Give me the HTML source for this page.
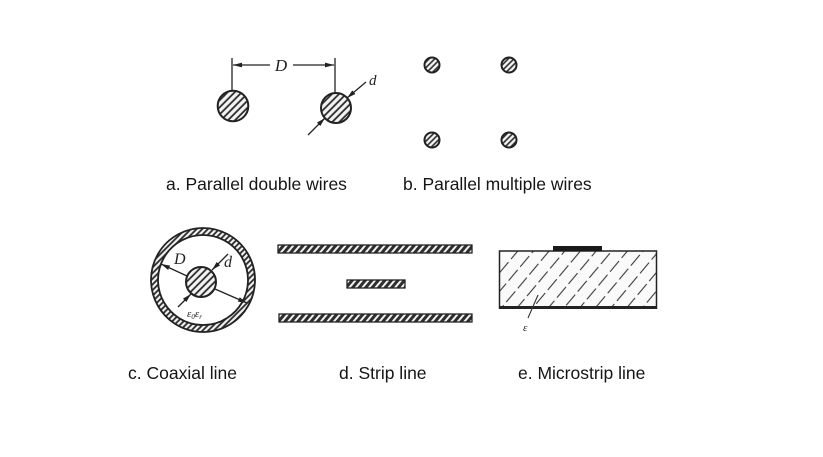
<!DOCTYPE html>
<html>
<head>
<meta charset="utf-8">
<style>
html,body{margin:0;padding:0;background:#fff;}
svg{display:block;}
.lbl{font-family:"Liberation Sans",sans-serif;font-size:17.5px;fill:#151515;}
.it{font-family:"Liberation Serif",serif;font-style:italic;fill:#222;}
</style>
</head>
<body>
<svg width="823" height="457" viewBox="0 0 823 457" xmlns="http://www.w3.org/2000/svg">
<defs>
  <pattern id="hatch" patternUnits="userSpaceOnUse" width="5" height="10" patternTransform="rotate(45)">
    <rect width="5" height="10" fill="#f4f4f4"/>
    <line x1="1.2" y1="0" x2="1.2" y2="10" stroke="#2a2a2a" stroke-width="1.8"/>
  </pattern>
  <pattern id="hatchs" patternUnits="userSpaceOnUse" width="4" height="10" patternTransform="rotate(45)">
    <rect width="4" height="10" fill="#f4f4f4"/>
    <line x1="1" y1="0" x2="1" y2="10" stroke="#2a2a2a" stroke-width="1.6"/>
  </pattern>
  <pattern id="strip" patternUnits="userSpaceOnUse" width="5" height="10" patternTransform="rotate(40)">
    <rect width="5" height="10" fill="#2e2e2e"/>
    <line x1="2.5" y1="0" x2="2.5" y2="10" stroke="#f2f2f2" stroke-width="2"/>
  </pattern>
  <pattern id="ring" patternUnits="userSpaceOnUse" width="4" height="10" patternTransform="rotate(45)">
    <rect width="4" height="10" fill="#f2f2f2"/>
    <line x1="1" y1="0" x2="1" y2="10" stroke="#2a2a2a" stroke-width="1.8"/>
  </pattern>
  <pattern id="sub" patternUnits="userSpaceOnUse" width="12" height="36" patternTransform="rotate(40)">
    <rect width="12" height="36" fill="#fafafa"/>
    <line x1="6" y1="0" x2="6" y2="36" stroke="#3a3a3a" stroke-width="1.1" stroke-dasharray="14 4"/>
  </pattern>
  <marker id="arr" markerWidth="10" markerHeight="6" refX="9" refY="3" orient="auto" markerUnits="userSpaceOnUse">
    <path d="M0,0.6 L9,3 L0,5.4 Z" fill="#222"/>
  </marker>
</defs>

<!-- a. Parallel double wires -->
<line x1="232" y1="58" x2="232" y2="91" stroke="#222" stroke-width="1.3"/>
<line x1="335" y1="58" x2="335" y2="93" stroke="#222" stroke-width="1.3"/>
<line x1="270" y1="65" x2="233" y2="65" stroke="#222" stroke-width="1.2" marker-end="url(#arr)"/>
<line x1="293" y1="65" x2="334" y2="65" stroke="#222" stroke-width="1.2" marker-end="url(#arr)"/>
<text x="281" y="71" class="it" font-size="17" text-anchor="middle">D</text>
<circle cx="233" cy="106" r="15.3" fill="url(#hatch)" stroke="#222" stroke-width="2"/>
<circle cx="336" cy="108" r="15" fill="url(#hatch)" stroke="#222" stroke-width="2"/>
<line x1="308" y1="135" x2="325" y2="118" stroke="#222" stroke-width="1.3" marker-end="url(#arr)"/>
<line x1="366" y1="82" x2="347" y2="98" stroke="#222" stroke-width="1.3" marker-end="url(#arr)"/>
<text x="369" y="85" class="it" font-size="15">d</text>

<!-- b. Parallel multiple wires -->
<circle cx="432" cy="65" r="7.5" fill="url(#hatchs)" stroke="#222" stroke-width="2"/>
<circle cx="509" cy="65" r="7.5" fill="url(#hatchs)" stroke="#222" stroke-width="2"/>
<circle cx="432" cy="140" r="7.5" fill="url(#hatchs)" stroke="#222" stroke-width="2"/>
<circle cx="509" cy="140" r="7.5" fill="url(#hatchs)" stroke="#222" stroke-width="2"/>

<text x="166" y="190" class="lbl">a. Parallel double wires</text>
<text x="403" y="190" class="lbl">b. Parallel multiple wires</text>

<!-- c. Coaxial line -->
<path d="M203,228 a52,52 0 1,0 0.01,0 Z M203,235 a45,45 0 1,0 0.01,0 Z" fill="url(#ring)" fill-rule="evenodd" stroke="#222" stroke-width="1.8"/>
<circle cx="201" cy="282" r="15" fill="url(#hatch)" stroke="#222" stroke-width="2"/>
<line x1="187" y1="276" x2="161" y2="264" stroke="#222" stroke-width="1.3" marker-end="url(#arr)"/>
<line x1="215" y1="289" x2="247" y2="303" stroke="#222" stroke-width="1.3" marker-end="url(#arr)"/>
<line x1="228" y1="254" x2="212" y2="270" stroke="#222" stroke-width="1.3" marker-end="url(#arr)"/>
<line x1="178" y1="307" x2="191" y2="294" stroke="#222" stroke-width="1.3" marker-end="url(#arr)"/>
<text x="174" y="264" class="it" font-size="16">D</text>
<text x="224" y="267" class="it" font-size="16">d</text>
<text x="187" y="317" class="it" font-size="11">ε<tspan font-size="7" dy="2">0</tspan><tspan dy="-2">ε</tspan><tspan font-size="7" dy="2">r</tspan></text>

<!-- d. Strip line -->
<rect x="278" y="245" width="194" height="8" fill="url(#strip)" stroke="#222" stroke-width="1.3"/>
<rect x="347" y="280" width="58" height="8" fill="url(#strip)" stroke="#222" stroke-width="1.3"/>
<rect x="279" y="314" width="193" height="8" fill="url(#strip)" stroke="#222" stroke-width="1.3"/>

<!-- e. Microstrip line -->
<rect x="499.5" y="251" width="157" height="57" fill="url(#sub)" stroke="#222" stroke-width="1.5"/>
<line x1="499" y1="307.5" x2="657" y2="307.5" stroke="#222" stroke-width="3"/>
<rect x="553" y="246" width="49" height="5" fill="#1a1a1a"/>
<line x1="538" y1="295" x2="528" y2="318" stroke="#333" stroke-width="1.1"/>
<text x="523" y="331" class="it" font-size="11">ε</text>

<text x="128" y="379" class="lbl">c. Coaxial line</text>
<text x="339" y="379" class="lbl">d. Strip line</text>
<text x="518" y="379" class="lbl">e. Microstrip line</text>
</svg>
</body>
</html>
